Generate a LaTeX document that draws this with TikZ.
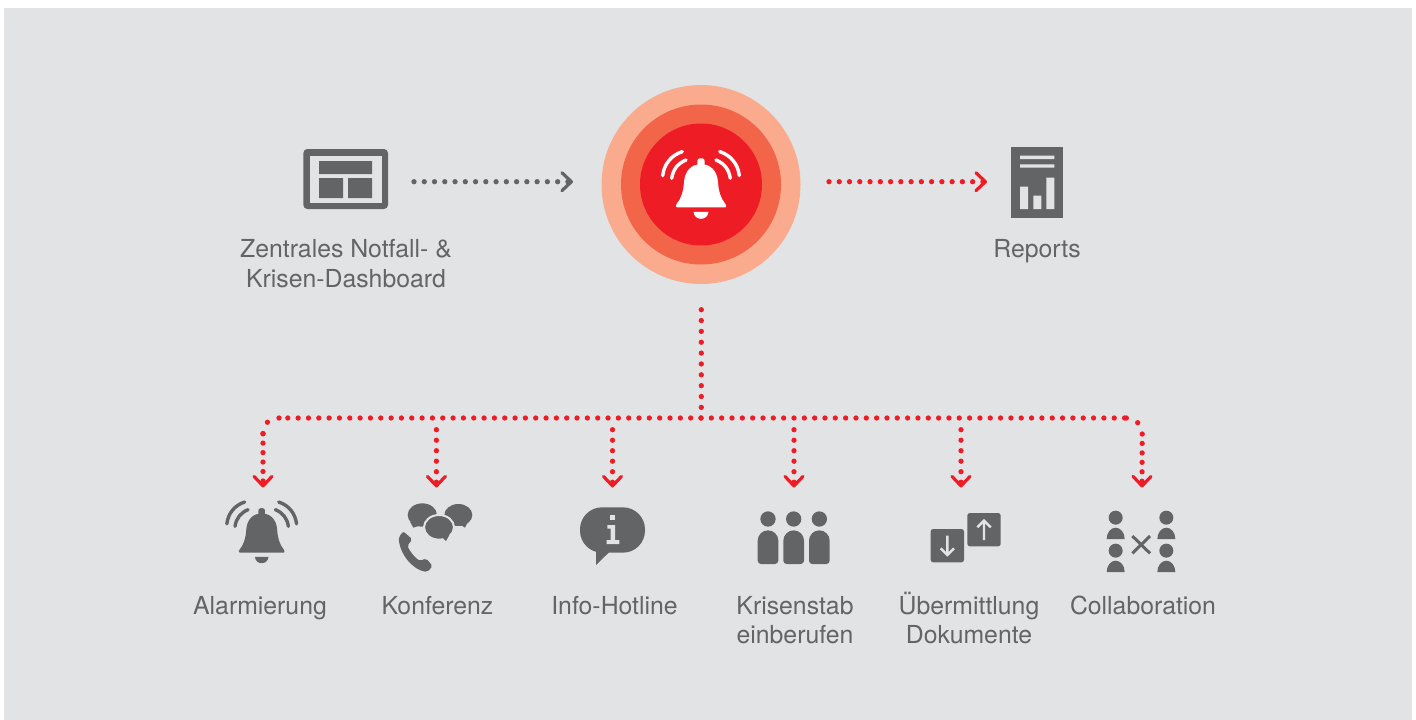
\documentclass[tikz,border=0pt]{standalone}
\usepackage{fontspec}
\setmainfont{TeX Gyre Heros}
\usetikzlibrary{arrows.meta}
\definecolor{panelbg}{HTML}{E2E3E5}
\definecolor{icongray}{HTML}{636466}
\definecolor{alarmred}{HTML}{EE1C25}
\definecolor{midred}{HTML}{F26549}
\definecolor{paleorange}{HTML}{FAAB8E}
\tikzset{
  zoomat/.style 2 args={shift={(#1,#2)},x=.33333pt,y=-.33333pt},
  chevron/.tip={Bar[width=.01pt,line width=.01pt,sep=8.5pt]Straight Barb[length=9.5pt,width=18pt,line width=3.2pt,round]},
  dotgray/.style={draw=icongray,line width=5.3pt,line cap=round,dash pattern=on 0pt off 10.26pt,-chevron},
  dotred/.style={draw=alarmred,line width=5.3pt,line cap=round,dash pattern=on 0pt off #1,-chevron},
  dotred/.default=10.26pt,
  dotplain/.style={draw=alarmred,line width=5.3pt,line cap=round,dash pattern=on 0pt off #1},
  dotplain/.default=10.33pt,
  label/.style={text=icongray,font=\fontsize{24.8}{29.5}\selectfont,align=center,inner sep=0pt},
}
\newcommand{\bellicon}[4]{%
  \begin{scope}[shift={(#1,#2)},x=#3pt,y=-#3pt]
    \fill[#4,rounded corners=.8pt] (-25,0) -- (-25,-2.5) .. controls (-19.5,-9) and (-17.5,-17) .. (-17,-25)
      .. controls (-16,-37) and (-9,-43) .. (0,-43) .. controls (9,-43) and (16,-37) .. (17,-25)
      .. controls (17.5,-17) and (19.5,-9) .. (25,-2.5) -- (25,0) -- cycle;
    \fill[#4,rounded corners=2.5pt] (-3.6,-38) rectangle (3.6,-49);
    \fill[#4] (-7.5,4.5) .. controls (-7,9) and (-4,11.5) .. (0,11.5) .. controls (4,11.5) and (7,9) .. (7.5,4.5) -- cycle;
    \draw[#4,line width=3.4pt,line cap=round]
      (-29.3,-29) .. controls (-28,-38) and (-23,-44) .. (-15,-47.3)
      (-38.3,-31.7) .. controls (-37,-43) and (-30,-52) .. (-18.7,-55.7)
      (29.3,-29) .. controls (28,-38) and (23,-44) .. (15,-47.3)
      (38.3,-31.7) .. controls (37,-43) and (30,-52) .. (18.7,-55.7);
  \end{scope}}
\begin{document}
\begin{tikzpicture}[x=1pt,y=-1pt]
\useasboundingbox (0,0) rectangle (1416,720);
\fill[white] (0,0) rectangle (1416,720);
\fill[panelbg] (4,8) rectangle (1412,720);

% central alarm
\fill[paleorange] (701,184.5) circle[radius=99.5];
\fill[midred] (701,184.5) circle[radius=80];
\fill[alarmred] (701,184.5) circle[radius=61];
\bellicon{701}{207.3}{1}{white}

% dashboard icon
\begin{scope}[zoomat={290}{135}]
  \fill[icongray,rounded corners=4pt] (40,42) rectangle (294,222);
  \fill[panelbg] (60,62) rectangle (275,203);
  \fill[icongray] (87,78) rectangle (246,117) (87,129) rectangle (159,189) (174,129) rectangle (246,189);
\end{scope}

% report icon
\begin{scope}[zoomat={820}{135}]
  \fill[icongray] (574,36) rectangle (729,248);
  \fill[panelbg] (600,62) rectangle (703,72) (600,88) rectangle (703,98)
    (600,155) rectangle (624,222) (640,182) rectangle (664,222) (679,128) rectangle (703,222);
\end{scope}

% small bell
\bellicon{261.7}{552.7}{.91}{icongray}

% conference icon
\begin{scope}[zoomat={200}{490}]
  \fill[icongray] (667,75) ellipse[x radius=44,y radius=35];
  \fill[icongray] (630,95) -- (640,113) -- (665,105) -- cycle;
  \fill[icongray] (775,75) ellipse[x radius=42,y radius=33];
  \fill[icongray] (780,103) -- (795,113) -- (805,93) -- cycle;
  \draw[panelbg,line width=2pt,fill=icongray] (717,112) ellipse[x radius=45,y radius=37];
  \fill[icongray] (725,140) -- (738,153) -- (748,135) -- cycle;
  \fill[icongray,rounded corners=2pt] (610,124) -- (637,148) -- (622,167)
    .. controls (630,185) and (645,203) .. (660,213) -- (678,205) -- (698,228) -- (682,246)
    .. controls (640,240) and (600,195) .. (596,142) -- cycle;
\end{scope}

% info icon
\begin{scope}[zoomat={560}{490}]
  \fill[icongray,rounded corners=22pt] (60,52) rectangle (255,188);
  \fill[icongray] (108,170) -- (108,225) -- (148,186) -- cycle;
  \fill[panelbg] (150,75) rectangle (165,90);
  \fill[panelbg] (142,105) -- (165,105) -- (165,150) -- (178,150) -- (178,162) -- (140,162) -- (140,150) -- (152,150) -- (152,116) -- (142,116) -- cycle;
\end{scope}

% people icon
\begin{scope}[zoomat={560}{490}]
  \foreach \cx in {624,701,778}{
    \fill[icongray] (\cx,87) circle[radius=23];
    \fill[icongray] (\cx-31,152) arc[start angle=180,end angle=360,radius=31] -- (\cx+31,212)
      arc[start angle=0,end angle=90,radius=10] -- (\cx-21,222) arc[start angle=90,end angle=180,radius=10] -- cycle;
  }
\end{scope}

% documents icon
\begin{scope}[zoomat={910}{490}]
  \fill[icongray,rounded corners=2.5pt] (62,117) rectangle (162,217);
  \fill[icongray,rounded corners=2.5pt] (172,69) rectangle (272,169);
  \draw[panelbg,line width=2.4pt] (112,137) -- (112,195) (92,175) -- (112,195) -- (132,175);
  \draw[panelbg,line width=2.4pt] (222,150) -- (222,92) (202,112) -- (222,92) -- (242,112);
\end{scope}

% collaboration icon
\begin{scope}[zoomat={910}{490}]
  \foreach \cx in {617,769}{
    \foreach \cy in {83,182}{
      \fill[icongray] (\cx,\cy) circle[radius=21];
      \fill[icongray] (\cx-27,\cy+64) arc[start angle=180,end angle=360,x radius=27,y radius=34] -- cycle;
    }
  }
  \draw[icongray,line width=3pt] (667,138) -- (720,190) (720,138) -- (667,190);
\end{scope}

% connector end points
\coordinate (dashEnd) at (414,181.7);
\coordinate (alarmIn) at (573,181.7);
\coordinate (alarmOut) at (829,181.7);
\coordinate (reportIn) at (987,181.7);
\coordinate (alarmDown) at (701.3,309.7);
\coordinate (trunkEnd) at (701.3,408);
\coordinate (busJoin) at (701,418);
\coordinate (busEndL) at (279,418);
\coordinate (busEndR) at (1126.3,418);
\coordinate (cornerL) at (267.3,422.3);
\coordinate (cornerR) at (1137.7,422.7);
\coordinate (dropTopL) at (263,433.7);
\coordinate (dropTopR) at (1142.2,434);
\coordinate (tipA) at (263,487.5);
\coordinate (tipF) at (1142,487.5);
\foreach \nm/\px in {B/436.4,C/612.5,D/794,E/961}{
  \coordinate (drop\nm) at (\px,429.7);
  \coordinate (tip\nm) at (\px,487.5);
}

\draw[dotgray] (dashEnd) -- (alarmIn);
\draw[dotred] (alarmOut) -- (reportIn);
\draw[dotplain=10.85pt] (alarmDown) -- (trunkEnd);
\draw[dotplain] (busJoin) -- (busEndL);
\draw[dotplain] (busJoin) -- (busEndR);
\draw[dotplain=12.3pt] (busEndL) -- (cornerL) -- (dropTopL);
\draw[dotplain=12.3pt] (busEndR) -- (cornerR) -- (dropTopR);
\draw[dotred=9.45pt] (dropTopL) -- (tipA);
\draw[dotred=9.45pt] (dropTopR) -- (tipF);
\foreach \nm in {B,C,D,E}{\draw[dotred=10.5pt] (drop\nm) -- (tip\nm);}

% labels
\node[label,anchor=base] (lblDash) at (346,287) {Zentrales Notfall- \&\\Krisen-Dashboard};
\node[label,anchor=base] (lblReports) at (1037,257) {Reports};
\node[label,anchor=base] (lblAlarm) at (260,614) {Alarmierung};
\node[label,anchor=base] (lblConf) at (437.5,614) {Konferenz};
\node[label,anchor=base] (lblInfo) at (614.5,614) {Info-Hotline};
\node[label,anchor=base] (lblKrisen) at (795,643.5) {Krisenstab\\einberufen};
\node[label,anchor=base] (lblDoc) at (969,643.5) {Übermittlung\\Dokumente};
\node[label,anchor=base] (lblCollab) at (1143,614) {Collaboration};
\end{tikzpicture}
\end{document}
